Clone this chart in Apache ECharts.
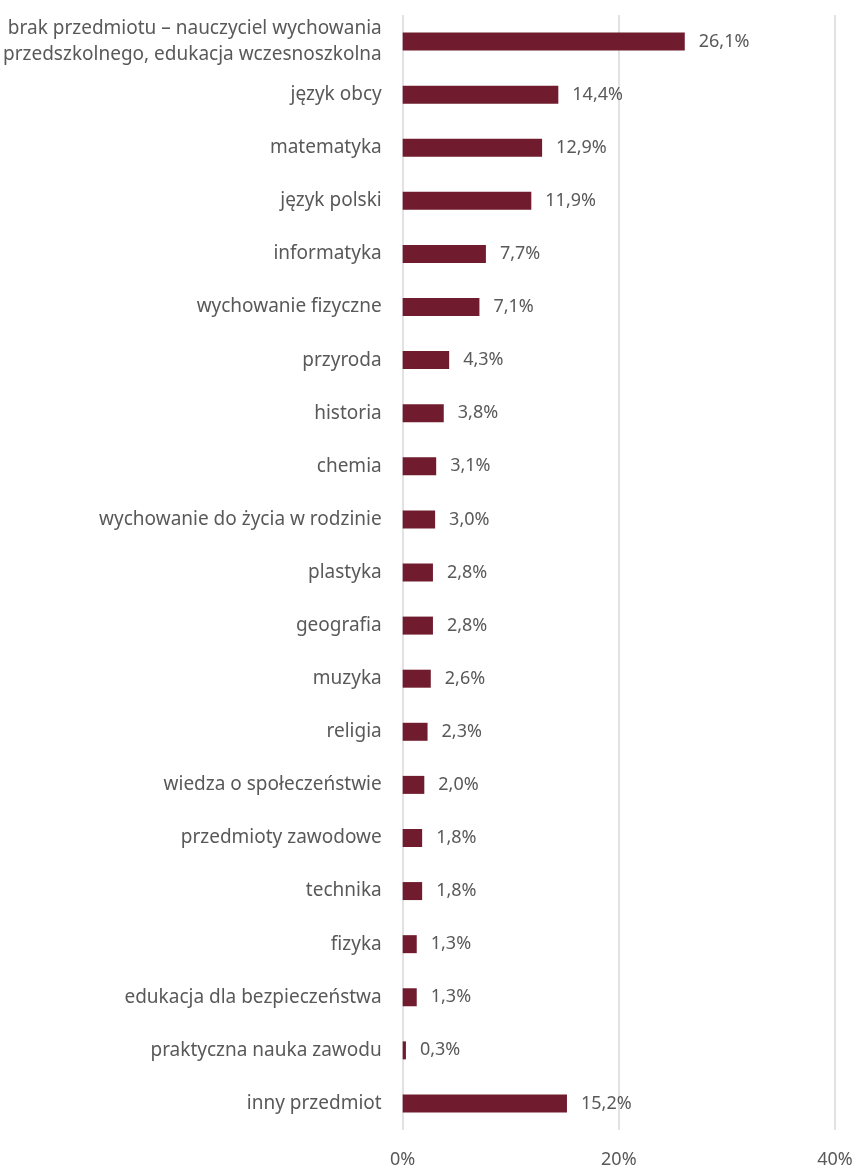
<!DOCTYPE html>
<html>
<head>
<meta charset="utf-8">
<style>
  html, body { margin: 0; padding: 0; background: #ffffff; }
  #chart { width: 856px; height: 1169px; }
</style>
<script src="https://cdn.jsdelivr.net/npm/echarts@6/dist/echarts.min.js"></script>
</head>
<body>
<div id="chart"></div>
<script>
// Subjects taught (share of respondents, %)
const categories = [
  'brak przedmiotu – nauczyciel wychowania\nprzedszkolnego, edukacja wczesnoszkolna',
  'język obcy',
  'matematyka',
  'język polski',
  'informatyka',
  'wychowanie fizyczne',
  'przyroda',
  'historia',
  'chemia',
  'wychowanie do życia w rodzinie',
  'plastyka',
  'geografia',
  'muzyka',
  'religia',
  'wiedza o społeczeństwie',
  'przedmioty zawodowe',
  'technika',
  'fizyka',
  'edukacja dla bezpieczeństwa',
  'praktyczna nauka zawodu',
  'inny przedmiot'
];
const values = [26.1, 14.4, 12.9, 11.9, 7.7, 7.1, 4.3, 3.8, 3.1, 3.0, 2.8, 2.8, 2.6, 2.3, 2.0, 1.8, 1.8, 1.3, 1.3, 0.3, 15.2];
const xTicks = [0, 20, 40];

const fmt = v => v.toFixed(1).replace('.', ',') + '%';
const FONT = 'Noto Sans';
const TEXT = '#595959';

const chart = echarts.init(document.getElementById('chart'), null, { renderer: 'canvas' });
chart.setOption({
  animation: false,
  backgroundColor: '#ffffff',
  grid: { left: 402, right: 21, top: 15, bottom: 37, containLabel: false },
  xAxis: {
    type: 'value',
    min: xTicks[0],
    max: xTicks[xTicks.length - 1],
    interval: xTicks[1] - xTicks[0],
    axisLine: { show: false },
    axisTick: { show: false },
    splitLine: { show: true, lineStyle: { color: '#d9d9d9', width: 1.5 } },
    axisLabel: {
      formatter: v => v + '%',
      color: TEXT,
      fontFamily: FONT,
      fontSize: 18,
      margin: 21
    }
  },
  yAxis: {
    type: 'category',
    data: categories,
    inverse: true,
    axisLine: { show: false },
    axisTick: { show: false },
    axisLabel: {
      color: TEXT,
      fontFamily: FONT,
      fontSize: 19,
      lineHeight: 26,
      margin: 21,
      align: 'right'
    }
  },
  series: [{
    type: 'bar',
    data: values,
    barWidth: 18,
    itemStyle: { color: '#701c2e' },
    label: {
      show: true,
      position: 'right',
      distance: 14,
      formatter: p => fmt(p.value),
      color: TEXT,
      fontFamily: FONT,
      fontSize: 18
    }
  }]
});
</script>
</body>
</html>
